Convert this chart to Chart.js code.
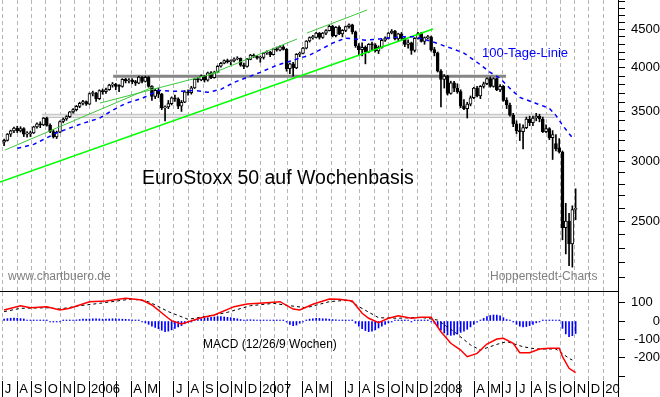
<!DOCTYPE html>
<html lang="de">
<head>
<meta charset="UTF-8">
<title>EuroStoxx 50 auf Wochenbasis</title>
<script src="https://cdn.jsdelivr.net/npm/chart.js@4"></script>
<style>
  html, body { margin: 0; padding: 0; background: #fff; }
  #wrap { position: relative; width: 660px; height: 397px; overflow: hidden; font-family: "Liberation Sans", Arial, sans-serif; }
  #priceChart { position: absolute; left: 0; top: 0; }
  #macdChart { position: absolute; left: 0; top: 292px; }
  .note { position: absolute; white-space: nowrap; line-height: 1; }
</style>
</head>
<body>
<div id="wrap">
  <canvas id="priceChart" width="660" height="292"></canvas>
  <canvas id="macdChart" width="660" height="105"></canvas>
  <div class="note" style="left:142px; top:168px; font-size:19.5px; color:#000;">EuroStoxx 50 auf Wochenbasis</div>
  <div class="note" style="left:482px; top:46px; font-size:13px; color:#0000ff;">100-Tage-Linie</div>
  <div class="note" style="left:8px; top:270px; font-size:12px; color:#808080;">www.chartbuero.de</div>
  <div class="note" style="left:490px; top:270px; font-size:12px; color:#808080;">Hoppenstedt-Charts</div>
  <div class="note" style="left:203px; top:338px; font-size:12px; color:#000;">MACD (12/26/9 Wochen)</div>
</div>

<script>
    // x unit = weeks, candle 0 = week of 4 July 2005
    const monthLabels = ['J','A','S','O','N','D','2006','','','A','M','',
                         'J','A','S','O','N','D','2007','','','A','M','',
                         'J','A','S','O','N','D','2008','','','A','M','J',
                         'J','A','S','O','N','D','20'];

    const opens = [
        3185, 3202, 3264, 3297, 3326, 3297, 3320, 3264, 3270, 3277,
        3338, 3370, 3358, 3429, 3353, 3291, 3237, 3285, 3393, 3420,
        3444, 3495, 3520, 3554, 3589, 3608, 3579, 3698, 3700, 3639,
        3731, 3718, 3742, 3794, 3803, 3780, 3779, 3862, 3842, 3853,
        3836, 3816, 3890, 3839, 3887, 3780, 3666, 3733, 3691, 3537,
        3550, 3584, 3649, 3638, 3556, 3600, 3716, 3706, 3763, 3866,
        3856, 3903, 3851, 3940, 3882, 3950, 4021, 4058, 4090, 4078,
        4087, 4111, 4120, 4035, 4017, 4107, 4160, 4147, 4120, 4130,
        4187, 4197, 4166, 4241, 4225, 4268, 4234, 3991, 4049, 4000,
        4170, 4181, 4250, 4344, 4390, 4393, 4451, 4394, 4450, 4485,
        4546, 4415, 4530, 4440, 4489, 4540, 4565, 4470, 4282, 4230,
        4260, 4200, 4300, 4294, 4215, 4260, 4354, 4382, 4452, 4480,
        4373, 4440, 4380, 4300, 4320, 4220, 4380, 4445, 4340, 4390,
        4400, 4230, 4190, 3960, 3860, 3900, 3700, 3820, 3760, 3720,
        3560, 3530, 3580, 3650, 3760, 3670, 3780, 3810, 3870, 3780,
        3870, 3740, 3780, 3620, 3570, 3460, 3370, 3300, 3290, 3330,
        3420, 3380, 3430, 3450, 3420, 3290, 3320, 3230, 3170, 3130,
        3090, 2450, 2500, 2330, 2590
    ];
    const highs = [
        3215, 3270, 3305, 3335, 3345, 3340, 3330, 3290, 3295, 3345,
        3380, 3390, 3435, 3440, 3370, 3310, 3295, 3400, 3430, 3455,
        3500, 3530, 3565, 3600, 3620, 3615, 3705, 3725, 3710, 3740,
        3750, 3760, 3805, 3825, 3815, 3800, 3870, 3875, 3870, 3870,
        3850, 3900, 3895, 3900, 3895, 3790, 3750, 3760, 3700, 3560,
        3620, 3660, 3680, 3650, 3620, 3730, 3740, 3780, 3875, 3885,
        3915, 3910, 3950, 3955, 3960, 4030, 4070, 4100, 4110, 4100,
        4125, 4140, 4125, 4060, 4120, 4170, 4175, 4155, 4150, 4195,
        4215, 4210, 4250, 4265, 4280, 4285, 4245, 4060, 4070, 4180,
        4200, 4260, 4350, 4400, 4420, 4460, 4460, 4460, 4500, 4560,
        4560, 4540, 4550, 4500, 4550, 4580, 4575, 4480, 4310, 4320,
        4280, 4310, 4330, 4310, 4280, 4370, 4400, 4460, 4500, 4490,
        4450, 4460, 4390, 4360, 4330, 4390, 4460, 4460, 4400, 4420,
        4410, 4260, 4200, 3980, 3920, 3910, 3840, 3840, 3810, 3740,
        3630, 3600, 3670, 3770, 3780, 3790, 3830, 3880, 3890, 3880,
        3880, 3800, 3790, 3650, 3590, 3480, 3400, 3370, 3360, 3440,
        3450, 3450, 3480, 3470, 3440, 3360, 3330, 3300, 3260, 3220,
        3100, 2640, 2560, 2620, 2760
    ];
    const lows = [
        3150, 3195, 3240, 3280, 3280, 3285, 3240, 3235, 3240, 3270,
        3325, 3330, 3350, 3345, 3280, 3225, 3220, 3280, 3380, 3405,
        3435, 3480, 3505, 3540, 3570, 3565, 3575, 3670, 3610, 3630,
        3690, 3700, 3735, 3770, 3740, 3720, 3770, 3820, 3820, 3810,
        3790, 3810, 3820, 3830, 3770, 3620, 3640, 3650, 3520, 3400,
        3530, 3570, 3610, 3530, 3500, 3595, 3680, 3690, 3755, 3830,
        3845, 3830, 3840, 3870, 3875, 3945, 4010, 4050, 4060, 4040,
        4075, 4100, 4020, 3990, 4010, 4100, 4130, 4110, 4070, 4110,
        4170, 4140, 4160, 4210, 4215, 4225, 3960, 3930, 3900, 3990,
        4140, 4175, 4240, 4330, 4370, 4385, 4370, 4380, 4430, 4480,
        4400, 4400, 4430, 4400, 4470, 4520, 4440, 4260, 4160, 4150,
        4050, 4190, 4220, 4200, 4180, 4250, 4340, 4370, 4440, 4360,
        4340, 4350, 4270, 4250, 4170, 4200, 4370, 4330, 4300, 4370,
        4210, 4150, 3950, 3550, 3760, 3680, 3690, 3720, 3700, 3540,
        3520, 3430, 3560, 3640, 3660, 3640, 3760, 3800, 3770, 3770,
        3730, 3720, 3610, 3530, 3450, 3340, 3270, 3200, 3120, 3320,
        3350, 3350, 3400, 3390, 3280, 3280, 3210, 3020, 3100, 3080,
        2360, 2260, 2180, 2170, 2510
    ];
    const closes = [
        3202, 3264, 3297, 3326, 3297, 3320, 3264, 3270, 3277, 3338,
        3370, 3358, 3429, 3353, 3291, 3237, 3285, 3393, 3420, 3444,
        3495, 3520, 3554, 3589, 3608, 3579, 3698, 3700, 3639, 3731,
        3718, 3742, 3794, 3803, 3780, 3779, 3862, 3842, 3853, 3836,
        3816, 3890, 3839, 3887, 3780, 3666, 3733, 3691, 3537, 3550,
        3584, 3649, 3638, 3556, 3600, 3716, 3706, 3763, 3866, 3856,
        3903, 3851, 3940, 3882, 3950, 4021, 4058, 4090, 4078, 4087,
        4111, 4120, 4035, 4017, 4107, 4160, 4147, 4120, 4130, 4187,
        4197, 4166, 4241, 4225, 4268, 4234, 3991, 4049, 4000, 4170,
        4181, 4250, 4344, 4390, 4393, 4451, 4394, 4450, 4485, 4546,
        4415, 4530, 4440, 4489, 4540, 4565, 4470, 4282, 4230, 4260,
        4200, 4300, 4294, 4215, 4260, 4354, 4382, 4452, 4480, 4373,
        4440, 4380, 4300, 4320, 4220, 4380, 4445, 4340, 4390, 4400,
        4230, 4190, 3960, 3860, 3900, 3700, 3820, 3760, 3720, 3560,
        3530, 3580, 3650, 3760, 3670, 3780, 3810, 3870, 3780, 3870,
        3740, 3780, 3620, 3570, 3460, 3370, 3300, 3290, 3330, 3420,
        3380, 3430, 3450, 3420, 3290, 3320, 3230, 3260, 3120, 3090,
        2450, 2500, 2330, 2590, 2600
    ];

    // 100-Tage-Linie
    const maWeeks  = [4, 9, 16, 24, 29, 33, 37, 42, 47, 53, 58, 62, 66, 70, 74, 78, 83, 87, 90, 93, 96,
                      100, 104, 107, 110, 114, 117, 121, 125, 130, 136, 140, 144, 148, 151, 154, 157, 162, 166, 168, 170, 173];
    const maValues = [3125, 3163, 3277, 3375, 3427, 3512, 3587, 3643, 3733, 3722, 3733, 3711, 3745, 3826, 3886, 3946, 4032, 4082, 4121, 4160, 4225,
                      4316, 4383, 4370, 4356, 4370, 4383, 4400, 4400, 4340, 4251, 4186, 4070, 3946, 3874, 3756, 3654, 3587, 3533, 3458, 3355, 3229];

    // trend lines (start week/value -> end week/value)
    const trendFromWeek  = [-1.25, 0.3, 29.2, 62.1, 92.2];
    const trendFromValue = [2818, 3109, 3591, 3914, 4452];
    const trendToWeek    = [130.6, 45.3, 65.7, 89.2, 110.5];
    const trendToValue   = [4507, 3772, 3950, 4371, 4778];

    // horizontal marks
    const levelValues = [3900, 3453, 3469, 3437];
    const levelFrom   = [33.2, 11.5, 11.5, 11.5];
    const levelTo     = [152.8, 167.9, 167.9, 167.9];
    const levelColors = ['#858585', '#e6e6e6', '#b4b4b4', '#b4b4b4'];
    const levelWidths = [3, 2, 1, 1];

    // MACD panel
    const macdWeeks  = [0, 5, 8, 13, 17, 20, 26, 31, 37, 42, 45, 50, 51, 54, 60, 64, 70, 74, 80, 84, 88, 90, 94, 99, 102,
                        106, 109, 111, 114, 117, 120, 124, 127, 130, 133, 136, 139, 141, 144, 147, 150, 152, 155, 157, 160, 163, 166, 169, 170, 172, 174];
    const macdValues = [60, 83, 72, 78, 60, 69, 105, 109, 123, 114, 87, 15, 2, -16, 18, 33, 78, 92, 99, 105, 65, 60, 91, 120, 118,
                        109, 42, 15, -9, 15, 29, 15, 20, 20, -58, -121, -158, -194, -176, -125, -98, -94, -121, -172, -172, -152, -148, -148, -194, -257, -281];
    const signalWeeks  = [0, 5, 13, 17, 23, 29, 39, 44, 50, 56, 62, 68, 75, 82, 87, 92, 99, 105, 108, 114, 120, 127, 132, 137, 142, 145, 150, 153, 158, 162, 168, 172, 173];
    const signalValues = [51, 69, 72, 65, 83, 96, 120, 105, 51, 9, 27, 47, 83, 96, 83, 72, 105, 114, 78, 18, 15, 20, 5, -58, -130, -158, -127, -112, -140, -152, -152, -203, -212];
    const histValues = [
        10, 13, 15, 16, 15, 13, 11, 4, 3, 4,
        3, 2, 3, 2, -2, -3, -3, -2, 2, 3,
        4, 4, 6, 8, 10, 10, 11, 12, 12, 11,
        10, 10, 11, 12, 12, 11, 10, 9, 8, 6,
        5, 3, -4, -10, -18, -28, -35, -42, -50, -58,
        -55, -48, -40, -32, -25, -15, -8, -2, 4, 8,
        12, 15, 18, 20, 22, 24, 24, 22, 20, 18,
        15, 12, 8, 5, 6, 7, 6, 5, 4, 5,
        5, 4, 4, 4, 4, 3, -6, -18, -25, -22,
        -12, -2, 4, 10, 12, 14, 14, 12, 12, 10,
        8, 6, 5, 3, 3, 4, 2, -12, -28, -42,
        -52, -58, -55, -48, -38, -28, -18, -10, -5, 2,
        4, 5, 4, 2, -2, 2, 5, 4, 3, 2,
        -3, -12, -30, -50, -65, -75, -78, -76, -70, -62,
        -55, -45, -32, -18, -6, 4, 14, 24, 30, 33,
        32, 28, 18, 8, 2, -4, -18, -28, -32, -30,
        -25, -18, -10, -4, 2, 3, 3, 2, 2, 1,
        -40, -70, -85, -80, -68
    ];

    const priceTicks = [];
    for (let v = 2100; v <= 4900; v += 100) priceTicks.push(v);
    const macdTicks = [100, 0, -100, -200, -300];
    const macdTickLabels = ['100\u2007', '0', '-100', '-200', ''];

    const xMin = -1.25, xMax = 186.9;
    const firstMonday = Date.UTC(2005, 6, 4);
    const monthPos = monthLabels.map((_, m) => (Date.UTC(2005, 6 + m, 1) - firstMonday) / (7 * 864e5));

    Chart.defaults.font.family = '"Liberation Sans", Arial, sans-serif';
    Chart.defaults.color = '#000';

    const pts = (xs, ys) => xs.map((x, k) => ({ x: x, y: ys[k] }));
    const gridGray = '#b4b4b4';

    const trendSets = trendFromWeek.map((w, k) => ({
        type: 'line',
        data: [{ x: w, y: trendFromValue[k] }, { x: trendToWeek[k], y: trendToValue[k] }],
        borderColor: k === 0 ? '#00ff00' : '#3cc83c',
        borderWidth: k === 0 ? 1.5 : 1,
        pointRadius: 0,
        order: 2
    }));
    const levelSets = levelValues.map((v, k) => ({
        type: 'line',
        data: [{ x: levelFrom[k], y: v }, { x: levelTo[k], y: v }],
        borderColor: levelColors[k],
        borderWidth: levelWidths[k],
        pointRadius: 0,
        order: 8
    }));

    new Chart(document.getElementById('priceChart'), {
        type: 'bar',
        data: {
            datasets: [
                {
                    type: 'line',
                    data: pts(maWeeks, maValues),
                    borderColor: '#0000ff',
                    borderWidth: 1.5,
                    borderDash: [4, 4],
                    pointRadius: 0,
                    order: 1
                },
                ...trendSets,
                {
                    data: closes.map((c, i) => ({ x: i, y: [lows[i], highs[i]] })),
                    backgroundColor: '#000',
                    barThickness: 1,
                    grouped: false,
                    minBarLength: 1,
                    order: 5
                },
                {
                    data: closes.map((c, i) => ({ x: i, y: [opens[i], c] })),
                    backgroundColor: ctx => closes[ctx.dataIndex] >= opens[ctx.dataIndex] ? '#fff' : '#000',
                    borderColor: '#000',
                    borderWidth: 1,
                    borderSkipped: false,
                    barThickness: 3,
                    grouped: false,
                    minBarLength: 1,
                    order: 4
                },
                ...levelSets
            ]
        },
        options: {
            responsive: false,
            animation: false,
            layout: { padding: 0, autoPadding: false },
            plugins: { legend: { display: false }, tooltip: { enabled: false } },
            scales: {
                x: {
                    type: 'linear', min: xMin, max: xMax, offset: false,
                    afterBuildTicks: s => { s.ticks = monthPos.map(v => ({ value: v })); },
                    afterFit: s => { s.height = 1; s.paddingLeft = 0; s.paddingRight = 0; },
                    ticks: { display: false },
                    grid: { color: gridGray, drawTicks: false, offset: false },
                    border: { display: true, color: '#000', dash: [4, 3] }
                },
                y: {
                    type: 'logarithmic', position: 'right', min: 2017, max: 4927,
                    afterBuildTicks: s => { s.ticks = priceTicks.map(v => ({ value: v })); },
                    afterFit: s => { s.width = 42; s.paddingTop = 0; s.paddingBottom = 0; },
                    ticks: {
                        callback: v => (v % 500 === 0 ? String(v) : ''),
                        font: { size: 13 }, padding: 3, crossAlign: 'far', autoSkip: false
                    },
                    grid: { drawOnChartArea: false, tickLength: 7, tickColor: '#000' },
                    border: { display: true, color: '#000' }
                }
            }
        }
    });

    new Chart(document.getElementById('macdChart'), {
        type: 'bar',
        data: {
            datasets: [
                {
                    type: 'line',
                    data: pts(macdWeeks, macdValues),
                    borderColor: '#ff0000',
                    borderWidth: 1.5,
                    pointRadius: 0,
                    order: 1
                },
                {
                    type: 'line',
                    data: pts(signalWeeks, signalValues),
                    borderColor: '#000',
                    borderWidth: 1,
                    borderDash: [3, 3],
                    pointRadius: 0,
                    order: 2
                },
                {
                    data: histValues.map((v, i) => ({ x: i, y: v })),
                    backgroundColor: '#0000ff',
                    barThickness: 1,
                    grouped: false,
                    minBarLength: 1,
                    order: 3
                }
            ]
        },
        options: {
            responsive: false,
            animation: false,
            layout: { padding: 0, autoPadding: false },
            plugins: { legend: { display: false }, tooltip: { enabled: false } },
            scales: {
                x: {
                    type: 'linear', min: xMin, max: xMax, offset: false,
                    afterBuildTicks: s => { s.ticks = monthPos.map(v => ({ value: v })).concat([{ value: xMax }]); },
                    afterFit: s => { s.height = 16; s.paddingLeft = 0; s.paddingRight = 0; },
                    ticks: {
                        callback: (v, i) => monthLabels[i] || '',
                        align: 'start', labelOffset: 2, padding: -15,
                        maxRotation: 0, autoSkip: false, font: { size: 13 }
                    },
                    grid: {
                        color: c => (c.tick && c.tick.value >= xMax ? 'rgba(0,0,0,0)' : gridGray),
                        tickLength: 16, tickColor: '#000', offset: false
                    },
                    border: { display: false, dash: [4, 3] }
                },
                y: {
                    type: 'linear', position: 'right', min: -326, max: 157.6,
                    afterBuildTicks: s => { s.ticks = macdTicks.map(v => ({ value: v })); },
                    afterFit: s => { s.width = 42; s.paddingTop = 0; s.paddingBottom = 0; },
                    ticks: {
                        callback: (v, i) => macdTickLabels[i],
                        font: { size: 13 }, padding: 6, crossAlign: 'far', autoSkip: false
                    },
                    grid: { drawOnChartArea: false, tickLength: 7, tickColor: '#000' },
                    border: { display: true, color: '#000' }
                }
            }
        }
    });
</script>
</body>
</html>
